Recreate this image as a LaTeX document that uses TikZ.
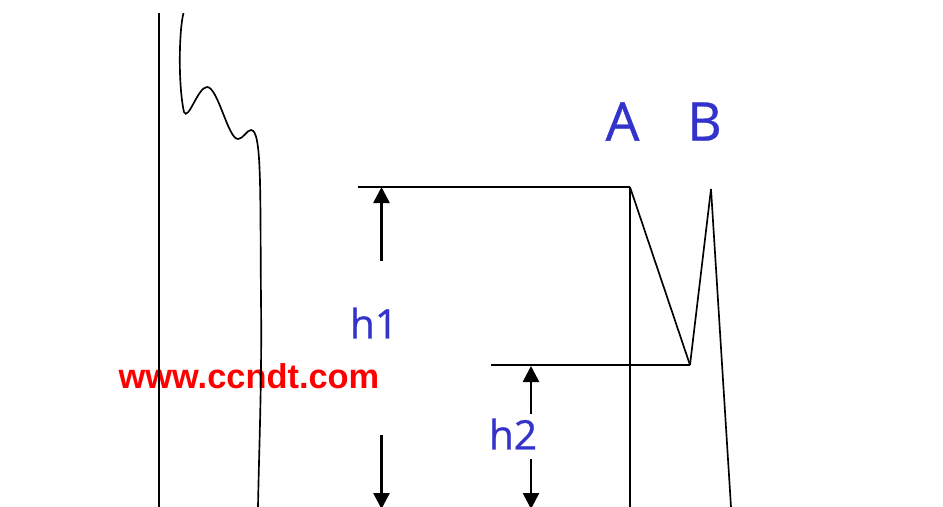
\documentclass[tikz,border=0pt]{standalone}
\usepackage{fontspec}
\usepackage{xcolor}
\setmainfont{Open Sans}
\newfontfamily\labelfont[RawFeature={embolden=0.7}]{Open Sans}
\newfontfamily\webfont{Liberation Sans}
\usetikzlibrary{arrows.meta,positioning}
\definecolor{labelblue}{RGB}{51,51,204}

\begin{document}
\begin{tikzpicture}[
  x=0.75pt, y=-0.75pt,
  curve/.style={line width=1.25pt, line join=miter},
  arr/.style={-{Triangle[length=12pt, width=12pt]}, line width=2pt},
  letter/.style={text=labelblue, font=\labelfont\fontsize{40}{40}\selectfont, inner sep=0pt},
  height/.style={text=labelblue, font=\labelfont\fontsize{30.5}{31}\selectfont, inner sep=0pt}
]
\useasboundingbox (0,0) rectangle (943,507);
% points on the trace
\coordinate (backtop) at (159,13);
\coordinate (backend) at (159,507);
\coordinate (level1) at (358,187);
\coordinate (peakA) at (630,187);
\coordinate (footA) at (630,507);
\coordinate (level2) at (491,365);
\coordinate (valley) at (690,365);
\coordinate (peakB) at (711,189);
\coordinate (footB) at (731,507);
\coordinate (h1top) at (381.5,187);
\coordinate (h1start) at (381.5,261);
\coordinate (h1low) at (381.5,435);
\coordinate (h1end) at (381.5,509);
\coordinate (h2top) at (531,366);
\coordinate (h2start) at (531,414);
\coordinate (h2low) at (531,459);
\coordinate (h2end) at (531,509);
% labels
\node[letter] (a) at (622.5,121.5) {A};
\node[letter] (b) at (704.5,121.5) {B};
\node[height] (h1) at (374,323) {h1};
\node[height] (h2) at (513,434) {h2};
\node[inner sep=0pt, text=red, font=\webfont\bfseries\fontsize{25.8}{26}\selectfont] (web) at (249,376) {www.ccndt.com};
% lines
\draw[curve] (backtop) -- (backend);
\draw[curve] (183.5,13) .. controls (179,30) and (178,85) .. (184,112)
  .. controls (188,122) and (198,87) .. (207,87)
  .. controls (218,87) and (228,139) .. (238,139)
  .. controls (243,139) and (247,130) .. (251,130)
  .. controls (262,130) and (260,190) .. (261,300)
  .. controls (262,380) and (259,450) .. (258,507);
\draw[curve] (level1) -- (peakA);
\draw[curve] (peakA) -- (footA);
\draw[curve] (peakA) -- (valley);
\draw[curve] (level2) -- (valley);
\draw[curve] (valley) -- (peakB);
\draw[curve] (peakB) -- (footB);
\draw[arr] (h1start) -- (h1top);
\draw[arr] (h1low) -- (h1end);
\draw[arr] (h2start) -- (h2top);
\draw[arr] (h2low) -- (h2end);
\end{tikzpicture}
\end{document}
